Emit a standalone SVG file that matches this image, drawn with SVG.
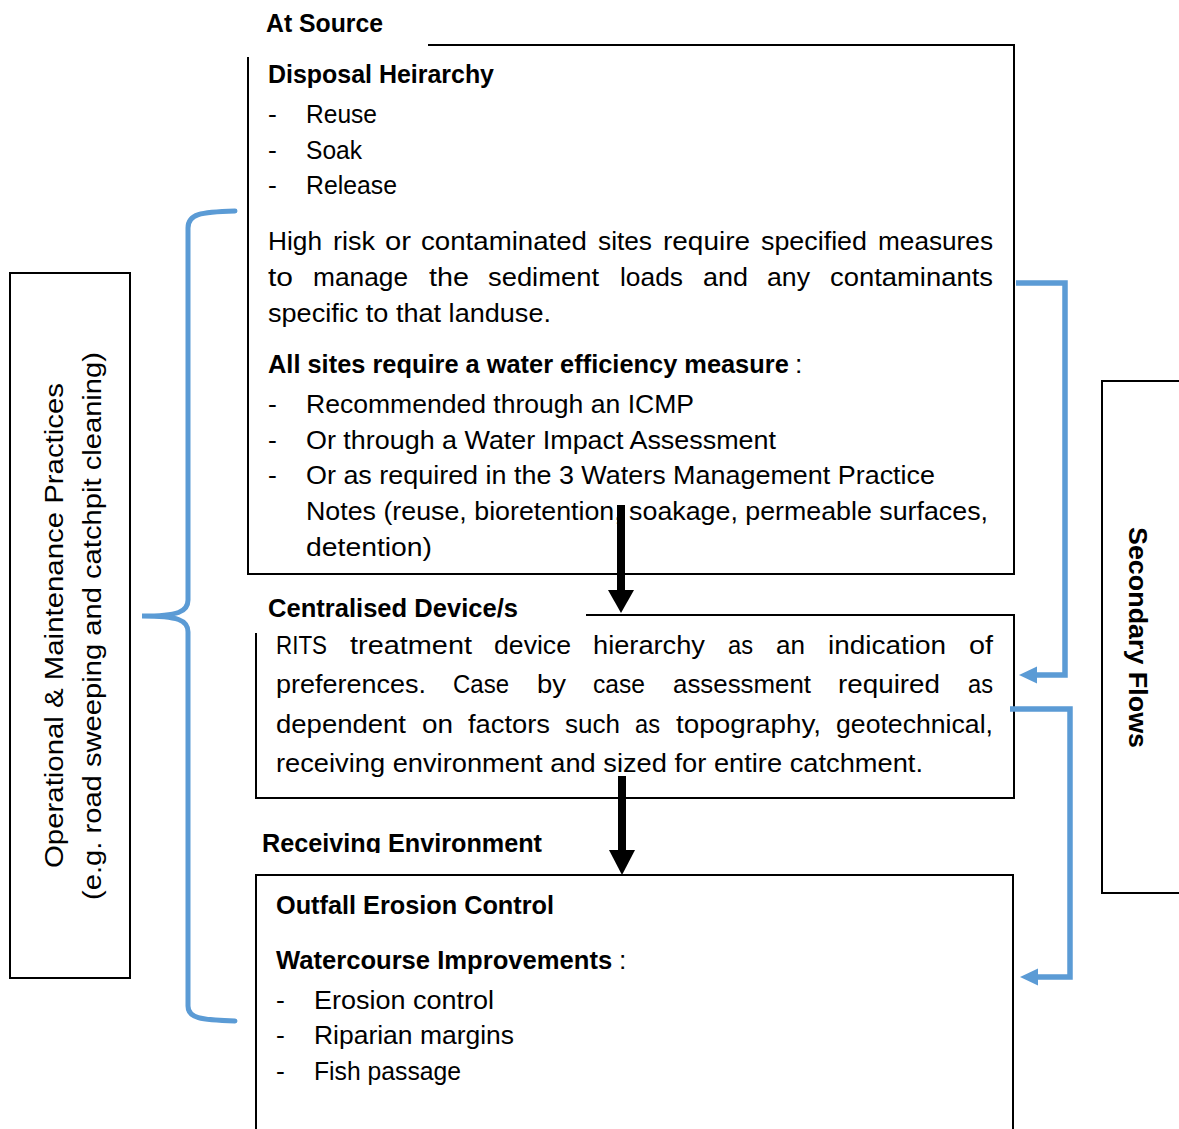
<svg xmlns="http://www.w3.org/2000/svg" width="1179" height="1129" viewBox="0 0 1179 1129">
<style>
  text { font-family: "Liberation Sans", Arial, sans-serif; font-size: 26.5px; fill: #000; }
  .b { font-weight: bold; }
  .box { fill: none; stroke: #000; stroke-width: 2; }
  .flow { fill: none; stroke: #5B9BD5; stroke-width: 5.5; }
  .brace { fill: none; stroke: #5B9BD5; stroke-width: 5; stroke-linecap: round; }
</style>
<defs>
  <clipPath id="clipRecv"><rect x="0" y="820" width="700" height="33"/></clipPath>
</defs>
<rect width="1179" height="1129" fill="#fff"/>

<!-- At Source -->
<g id="at-source">
  <text x="266" y="32" class="b" textLength="117" lengthAdjust="spacingAndGlyphs">At Source</text>
  <path class="box" d="M428,45 H1014 V574 H248 V57"/>
  <text x="268" y="83" class="b" textLength="226" lengthAdjust="spacingAndGlyphs">Disposal Heirarchy</text>
  <text x="268" y="123">-</text><text x="306" y="123" textLength="71" lengthAdjust="spacingAndGlyphs">Reuse</text>
  <text x="268" y="159">-</text><text x="306" y="159" textLength="56" lengthAdjust="spacingAndGlyphs">Soak</text>
  <text x="268" y="194">-</text><text x="306" y="194" textLength="91" lengthAdjust="spacingAndGlyphs">Release</text>
  <text y="250"><tspan x="268" textLength="54" lengthAdjust="spacingAndGlyphs">High</tspan><tspan x="333" textLength="42" lengthAdjust="spacingAndGlyphs">risk</tspan><tspan x="385" textLength="26" lengthAdjust="spacingAndGlyphs">or</tspan><tspan x="421" textLength="166" lengthAdjust="spacingAndGlyphs">contaminated</tspan><tspan x="598" textLength="54" lengthAdjust="spacingAndGlyphs">sites</tspan><tspan x="663" textLength="87" lengthAdjust="spacingAndGlyphs">require</tspan><tspan x="761" textLength="106" lengthAdjust="spacingAndGlyphs">specified</tspan><tspan x="878" textLength="115" lengthAdjust="spacingAndGlyphs">measures</tspan></text>
  <text y="286"><tspan x="268" textLength="25" lengthAdjust="spacingAndGlyphs">to</tspan><tspan x="313" textLength="95" lengthAdjust="spacingAndGlyphs">manage</tspan><tspan x="429" textLength="40" lengthAdjust="spacingAndGlyphs">the</tspan><tspan x="488" textLength="111" lengthAdjust="spacingAndGlyphs">sediment</tspan><tspan x="620" textLength="63" lengthAdjust="spacingAndGlyphs">loads</tspan><tspan x="703" textLength="45" lengthAdjust="spacingAndGlyphs">and</tspan><tspan x="767" textLength="43" lengthAdjust="spacingAndGlyphs">any</tspan><tspan x="830" textLength="163" lengthAdjust="spacingAndGlyphs">contaminants</tspan></text>
  <text x="268" y="322" textLength="283" lengthAdjust="spacingAndGlyphs">specific to that landuse.</text>
  <text x="268" y="373" class="b" style="font-size:25.4px">All sites require a water efficiency measure</text>
  <text x="795" y="373">:</text>
  <text x="268" y="413">-</text><text x="306" y="413" textLength="388" lengthAdjust="spacingAndGlyphs">Recommended through an ICMP</text>
  <text x="268" y="449">-</text><text x="306" y="449" textLength="470" lengthAdjust="spacingAndGlyphs">Or through a Water Impact Assessment</text>
  <text x="268" y="484">-</text><text x="306" y="484" textLength="629" lengthAdjust="spacingAndGlyphs">Or as required in the 3 Waters Management Practice</text>
  <text x="306" y="520" textLength="682" lengthAdjust="spacingAndGlyphs">Notes (reuse, bioretention, soakage, permeable surfaces,</text>
  <text x="306" y="556" textLength="126" lengthAdjust="spacingAndGlyphs">detention)</text>
</g>

<!-- Centralised Device/s -->
<g id="centralised">
  <text x="268" y="617" class="b" textLength="250" lengthAdjust="spacingAndGlyphs">Centralised Device/s</text>
  <path class="box" d="M586,615 H1014 V798 H256 V633"/>
  <text y="654"><tspan x="276" textLength="51" lengthAdjust="spacingAndGlyphs">RITS</tspan><tspan x="350" textLength="122" lengthAdjust="spacingAndGlyphs">treatment</tspan><tspan x="494" textLength="77" lengthAdjust="spacingAndGlyphs">device</tspan><tspan x="593" textLength="112" lengthAdjust="spacingAndGlyphs">hierarchy</tspan><tspan x="728" textLength="25" lengthAdjust="spacingAndGlyphs">as</tspan><tspan x="776" textLength="29" lengthAdjust="spacingAndGlyphs">an</tspan><tspan x="828" textLength="118" lengthAdjust="spacingAndGlyphs">indication</tspan><tspan x="969" textLength="24" lengthAdjust="spacingAndGlyphs">of</tspan></text>
  <text y="693"><tspan x="276" textLength="150" lengthAdjust="spacingAndGlyphs">preferences.</tspan><tspan x="453" textLength="56" lengthAdjust="spacingAndGlyphs">Case</tspan><tspan x="537" textLength="29" lengthAdjust="spacingAndGlyphs">by</tspan><tspan x="593" textLength="52" lengthAdjust="spacingAndGlyphs">case</tspan><tspan x="673" textLength="138" lengthAdjust="spacingAndGlyphs">assessment</tspan><tspan x="838" textLength="102" lengthAdjust="spacingAndGlyphs">required</tspan><tspan x="968" textLength="25" lengthAdjust="spacingAndGlyphs">as</tspan></text>
  <text y="733"><tspan x="276" textLength="130" lengthAdjust="spacingAndGlyphs">dependent</tspan><tspan x="422" textLength="31" lengthAdjust="spacingAndGlyphs">on</tspan><tspan x="468" textLength="82" lengthAdjust="spacingAndGlyphs">factors</tspan><tspan x="565" textLength="55" lengthAdjust="spacingAndGlyphs">such</tspan><tspan x="635" textLength="25" lengthAdjust="spacingAndGlyphs">as</tspan><tspan x="676" textLength="145" lengthAdjust="spacingAndGlyphs">topography,</tspan><tspan x="836" textLength="157" lengthAdjust="spacingAndGlyphs">geotechnical,</tspan></text>
  <text x="276" y="772" textLength="647" lengthAdjust="spacingAndGlyphs">receiving environment and sized for entire catchment.</text>
</g>

<!-- Receiving Environment -->
<g id="receiving">
  <text x="262" y="852" class="b" clip-path="url(#clipRecv)" textLength="280" lengthAdjust="spacingAndGlyphs">Receiving Environment</text>
  <path class="box" d="M256,1129 V875 H1013 V1129"/>
  <text x="276" y="914" class="b" textLength="278" lengthAdjust="spacingAndGlyphs">Outfall Erosion Control</text>
  <text x="276" y="969" class="b" style="font-size:25.6px">Watercourse Improvements</text>
  <text x="619" y="969">:</text>
  <text x="276" y="1009">-</text><text x="314" y="1009" textLength="180" lengthAdjust="spacingAndGlyphs">Erosion control</text>
  <text x="276" y="1044">-</text><text x="314" y="1044" textLength="200" lengthAdjust="spacingAndGlyphs">Riparian margins</text>
  <text x="276" y="1080">-</text><text x="314" y="1080" textLength="147" lengthAdjust="spacingAndGlyphs">Fish passage</text>
</g>

<!-- Operational & Maintenance Practices -->
<g id="om-practices">
  <rect class="box" x="10" y="273" width="120" height="705"/>
  <text transform="translate(63,625.5) rotate(-90)" text-anchor="middle" textLength="485" lengthAdjust="spacingAndGlyphs">Operational &amp; Maintenance Practices</text>
  <text transform="translate(101,626) rotate(-90)" text-anchor="middle" textLength="548" lengthAdjust="spacingAndGlyphs">(e.g. road sweeping and catchpit cleaning)</text>
</g>

<!-- Secondary Flows -->
<g id="secondary-flows">
  <path class="box" d="M1179,381 H1102 V893 H1179"/>
  <text class="b" transform="translate(1129,637.5) rotate(90)" text-anchor="middle" textLength="221" lengthAdjust="spacingAndGlyphs">Secondary Flows</text>
</g>

<!-- Connectors -->
<g id="connectors">
  <path class="brace" d="M235,211 C200,212 188,214 188,228 L188,600 C188,612 178,616 142,616 C178,616 188,620 188,632 L188,1006 C188,1018 200,1020 235,1021"/>
  <line x1="621" y1="505" x2="621" y2="592" stroke="#000" stroke-width="8"/>
  <polygon points="608,590 634,590 621,613" fill="#000"/>
  <line x1="622" y1="776" x2="622" y2="852" stroke="#000" stroke-width="8"/>
  <polygon points="609,850 635,850 622,875" fill="#000"/>
  <path class="flow" d="M1016,283 H1065 V675 H1036"/>
  <polygon points="1019,675 1037,666.5 1037,683.5" fill="#5B9BD5"/>
  <path class="flow" d="M1010,709 H1070 V977 H1037"/>
  <polygon points="1020,977 1038,968.5 1038,985.5" fill="#5B9BD5"/>
</g>
</svg>
